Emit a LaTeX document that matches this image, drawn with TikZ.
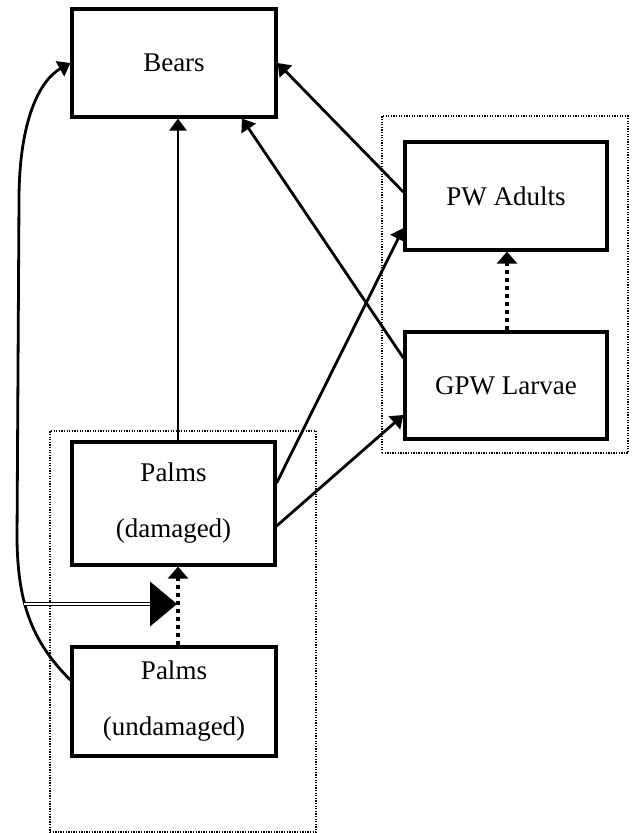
\documentclass[tikz,border=0pt]{standalone}
\usepackage{fontspec}
\setmainfont{Liberation Serif}
\usetikzlibrary{arrows.meta,calc}
\begin{document}
\begin{tikzpicture}[x=1pt,y=1pt,
  box/.style={draw, line width=3.2pt, rectangle, inner sep=0pt, align=center, fill=white,
              font=\fontsize{27}{56}\selectfont},
  grp/.style={draw, line width=1.2pt, dash pattern=on 1.3pt off 1.3pt, rectangle, inner sep=0pt},
  arr/.style={line width=2.8pt, -{Triangle[length=12pt,width=17pt]}},
  dotarr/.style={line width=3.4pt, dash pattern=on 4.5pt off 3.5pt, -{Triangle[length=12pt,width=20pt]}},
  dbl/.style={draw, double, line width=1.4pt, double distance=1.6pt}
]
\useasboundingbox (0,0) rectangle (634,-833);

% group boxes
\node[grp, minimum width=266pt, minimum height=401pt] (gleft) at (183,-631.5) {};
\node[grp, minimum width=246pt, minimum height=337pt] (gright) at (505,-284.5) {};

% boxes
\node[box, minimum width=204pt, minimum height=108pt] (bears) at (174,-63) {Bears};
\node[box, minimum width=202pt, minimum height=108pt] (pa) at (506,-196) {PW Adults};
\node[box, minimum width=202pt, minimum height=107pt] (gl) at (506,-385.5) {GPW Larvae};
\node[box, minimum width=203pt, minimum height=123pt] (pd) at (173.5,-503.5) {Palms\\(damaged)};
\node[box, minimum width=204pt, minimum height=109pt] (pu) at (174,-701.5) {Palms\\(undamaged)};

% solid arrows
\draw[arr] ([xshift=4.5pt]pd.north) -- ([xshift=4pt]bears.south);
\draw[arr] ([yshift=4pt]pa.west) -- (bears.east);
\draw[arr] ([yshift=27.5pt]gl.west) -- ([xshift=68pt]bears.south);
\draw[arr] ([yshift=20.5pt]pd.east) -- ([yshift=-32pt]pa.west);
\draw[arr] ([yshift=-22.5pt]pd.east) -- ([yshift=-29.5pt]gl.west);

% curved arrow from undamaged palms to bears
\coordinate (cl1) at (17,-540);
\coordinate (cl2) at (19,-200);
\draw[arr] ([yshift=21.5pt]pu.west) .. controls (30,-640) and (18,-600) .. (cl1)
  -- (cl2) .. controls (19,-120) and (40,-80) .. (bears.west);

% dotted arrows
\draw[dotarr] ([xshift=4pt]pu.north) -- ([xshift=4.5pt]pd.south);
\draw[dotarr] ([xshift=1pt]gl.north) -- ([xshift=1pt]pa.south);

% double line with big triangle
\coordinate (ds) at (24,-604);
\coordinate (dt) at (177,-604);
\draw[dbl] (ds) -- ([xshift=-26pt]dt);
\fill ([xshift=-27pt,yshift=22.5pt]dt) -- (dt) -- ([xshift=-27pt,yshift=-22.5pt]dt) -- cycle;
\end{tikzpicture}
\end{document}
